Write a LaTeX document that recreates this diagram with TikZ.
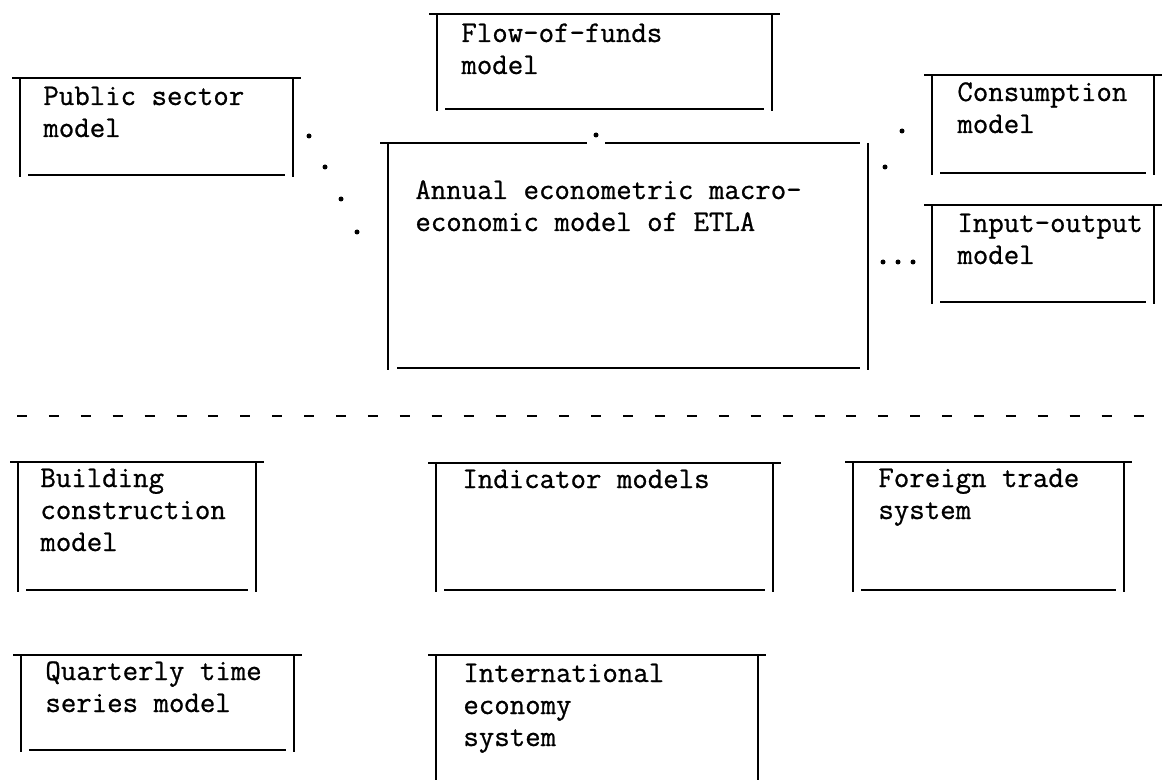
\documentclass[tikz,border=0pt]{standalone}
\usepackage{tikz}
\usepackage{fontspec}
\newfontfamily\typewriter{Latin Modern Mono}[FakeBold=0.8]

% open-cornered typewriter box: x1,y1 (top left), x2,y2 (bottom right)
\newcommand{\modelframe}[4]{%
  \draw[frame] (#1-8,#2) -- (#3+8,#2);
  \draw[frame] (#1,#2) -- (#1,#4+2);
  \draw[frame] (#3,#2) -- (#3,#4+2);
  \draw[frame] (#1+8,#4) -- (#3-8,#4);
}
% lines of a box text, first baseline at the node's base
\newcommand{\boxlines}[1]{\begin{tabular}[t]{@{}l@{}}#1\end{tabular}}

\begin{document}
\begin{tikzpicture}[x=0.5pt, y=-0.5pt,
    frame/.style={line width=1.15pt},
    txt/.style={anchor=base west, inner sep=0pt,
                font=\typewriter\fontsize{15}{16}\selectfont},
    dot/.style={fill, circle, inner sep=0pt, minimum size=2.5pt}]
  \useasboundingbox (0,0) rectangle (1165,780);

  % upper part
  \node[txt] (pub) at (43,105) {\boxlines{Public sector\\model}};
  \modelframe{20}{78}{293}{175}
  \node[txt] (flow) at (461,42) {\boxlines{Flow-of-funds\\model}};
  \modelframe{437}{14}{772}{109}
  \node[txt] (cons) at (957,101) {\boxlines{Consumption\\model}};
  \modelframe{932}{75}{1154}{173}
  \node[txt] (io) at (957,232) {\boxlines{Input-output\\model}};
  \modelframe{932}{205}{1154}{302}

  \node[txt] (etla) at (415,199) {\boxlines{Annual econometric macro-\\economic model of ETLA}};
  \draw[frame] (380,143) -- (587,143);
  \draw[frame] (605,143) -- (860,143);
  \draw[frame] (388,143) -- (388,370);
  \draw[frame] (868,143) -- (868,370);
  \draw[frame] (397,368) -- (860,368);

  % dotted links
  \node[dot] (d1) at (309,136) {};
  \node[dot] (d2) at (325,167) {};
  \node[dot] (d3) at (341,199) {};
  \node[dot] (d4) at (357,232) {};
  \node[dot] (d5) at (596,135) {};
  \node[dot] (d6) at (902,131) {};
  \node[dot] (d7) at (885,167) {};
  \node[dot] (d8) at (883,262) {};
  \node[dot] (d9) at (898,262) {};
  \node[dot] (d10) at (913,262) {};

  \draw[line width=1.4pt, dash pattern=on 5pt off 10.95pt] (17,416) -- (1165,416);

  % lower part
  \node[txt] (build) at (40,487) {\boxlines{Building\\construction\\model}};
  \modelframe{18}{462}{256}{590}
  \node[txt] (ind) at (462,488) {\boxlines{Indicator models}};
  \modelframe{436}{463}{773}{590}
  \node[txt] (trade) at (878,487) {\boxlines{Foreign trade\\system}};
  \modelframe{853}{462}{1124}{590}
  \node[txt] (quart) at (45,680) {\boxlines{Quarterly time\\series model}};
  \modelframe{21}{655}{294}{750}
  \node[txt] (intl) at (463,682) {\boxlines{International\\economy\\system}};
  \draw[frame] (428,655) -- (766,655);
  \draw[frame] (436,655) -- (436,780);
  \draw[frame] (758,655) -- (758,780);
\end{tikzpicture}
\end{document}
